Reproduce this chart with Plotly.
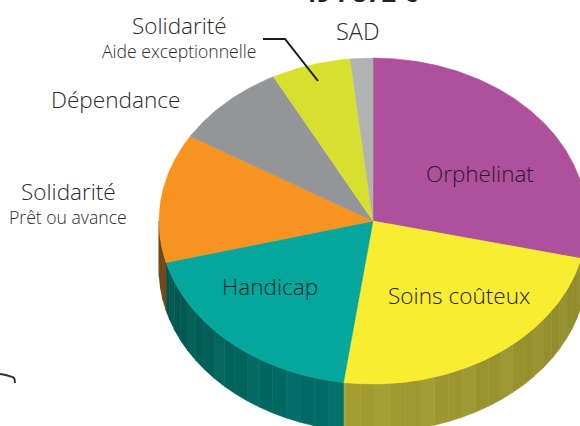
import math
import plotly.graph_objects as go

# Data (share of the pie, %)
categories = ["Orphelinat", "Soins coûteux", "Handicap", "Solidarité prêt", "Dépendance", "Solidarité aide", "SAD"]
values = [28.7, 23.5, 18.7, 12.8, 8.6, 6.0, 1.7]
top_colors = ["#AE509B", "#F9ED32", "#05A79C", "#F79421", "#939598", "#D7E02F", "#B1B3B3"]
# wall shade at the start and the end of each slice's visible wall
wall_start = [(110, 58, 100), (143, 138, 44), (0, 110, 104), (112, 69, 21), (85, 85, 85), (136, 136, 136), (119, 119, 119)]
wall_end = [(110, 58, 100), (165, 158, 50), (0, 84, 78), (105, 62, 18), (85, 85, 85), (136, 136, 136), (119, 119, 119)]

CX, CY, RX, RY, DEPTH = 373, 221, 214, 163, 48
W, H = 580, 426
FACET = 4


def pt(deg, dy=0):
    a = math.radians(deg)
    return CX + RX * math.sin(a), CY - RY * math.cos(a) + dy


def mix(c0, c1, f, lift=0):
    return "rgb(%d,%d,%d)" % tuple(min(255, round(a + (b - a) * f) + lift) for a, b in zip(c0, c1))


total = sum(values)
edges = [0]
for v in values:
    edges.append(edges[-1] + v / total * 360)

fig = go.Figure()

# walls (front half only: angles 90..270), one filled facet at a time
for i in range(len(values)):
    a0, a1 = max(edges[i], 90), min(edges[i + 1], 270)
    if a1 <= a0:
        continue
    a = a0
    k = 0
    while a < a1:
        b = min(a + FACET, a1)
        arc = [a + (b - a) * j / 4 for j in range(5)]
        top = [pt(t) for t in arc]
        bot = [pt(t, DEPTH) for t in reversed(arc)]
        poly = top + bot + top[:1]
        f = (a - a0) / (a1 - a0)
        col = mix(wall_start[i], wall_end[i], f, 0 if k % 3 else 5)
        fig.add_trace(go.Scatter(x=[p[0] for p in poly], y=[p[1] for p in poly], mode="lines",
                                 fill="toself", fillcolor=col, line=dict(width=0.6, color=col),
                                 hoverinfo="skip", showlegend=False))
        a = b
        k += 1

# top surface
for i in range(len(values)):
    a0, a1 = edges[i], edges[i + 1]
    n = max(2, int(a1 - a0) * 2)
    arc = [a0 + (a1 - a0) * k / n for k in range(n + 1)]
    pts = [(CX, CY)] + [pt(a) for a in arc] + [(CX, CY)]
    fig.add_trace(go.Scatter(x=[p[0] for p in pts], y=[p[1] for p in pts], mode="lines",
                             fill="toself", fillcolor=top_colors[i], line=dict(width=0.5, color=top_colors[i]),
                             name=categories[i], hoverinfo="name", showlegend=False))

# leader line and stray scan mark
fig.add_trace(go.Scatter(x=[263, 285, 318], y=[39, 39, 81], mode="lines",
                         line=dict(color="#1a1a1a", width=2), hoverinfo="skip", showlegend=False))
fig.add_trace(go.Scatter(x=[0, 9, 14, 15], y=[374, 376, 378, 383], mode="lines",
                         line=dict(color="#333", width=2, shape="spline"), hoverinfo="skip", showlegend=False))

TXT = "#2a2a2e"
FONT = "Open Sans"
labels = [
    ("SAD", 358, 31, 23.5, TXT),
    ("Solidarité", 179, 25, 22.5, TXT),
    ("Aide exceptionnelle", 179, 51, 17.6, TXT),
    ("Dépendance", 115, 99, 22.6, TXT),
    ("Solidarité", 68, 191, 22.5, TXT),
    ("Prêt ou avance", 68, 217, 17.6, TXT),
    ("Orphelinat", 480, 173, 22.5, "#2e1a2c"),
    ("Soins coûteux", 459, 295, 22.6, "#222"),
    ("Handicap", 270, 286, 22.6, "#0e2a2c"),
]
for t, x, y, s, c in labels:
    fig.add_annotation(x=x, y=y, xref="x", yref="y", text=t, showarrow=False,
                       font=dict(family=FONT, size=s, color=c, weight=300), xanchor="center", yanchor="middle")
# total, cut by the top edge of the picture as in the reference
fig.add_annotation(x=360 / W, y=1 + 8 / H, xref="paper", yref="paper", text="<b>494 872 €</b>", showarrow=False,
                   font=dict(family=FONT, size=25.5, color="#222"), xanchor="center", yanchor="middle")

fig.update_layout(width=W, height=H, margin=dict(l=0, r=0, t=0, b=0), paper_bgcolor="white",
                  plot_bgcolor="white", showlegend=False,
                  xaxis=dict(range=[0, W], visible=False, fixedrange=True),
                  yaxis=dict(range=[H, 0], visible=False, fixedrange=True))
fig.write_html("out.html", config=dict(displayModeBar=False),
               post_script="document.body.style.margin='0';document.documentElement.style.overflow='hidden';")
